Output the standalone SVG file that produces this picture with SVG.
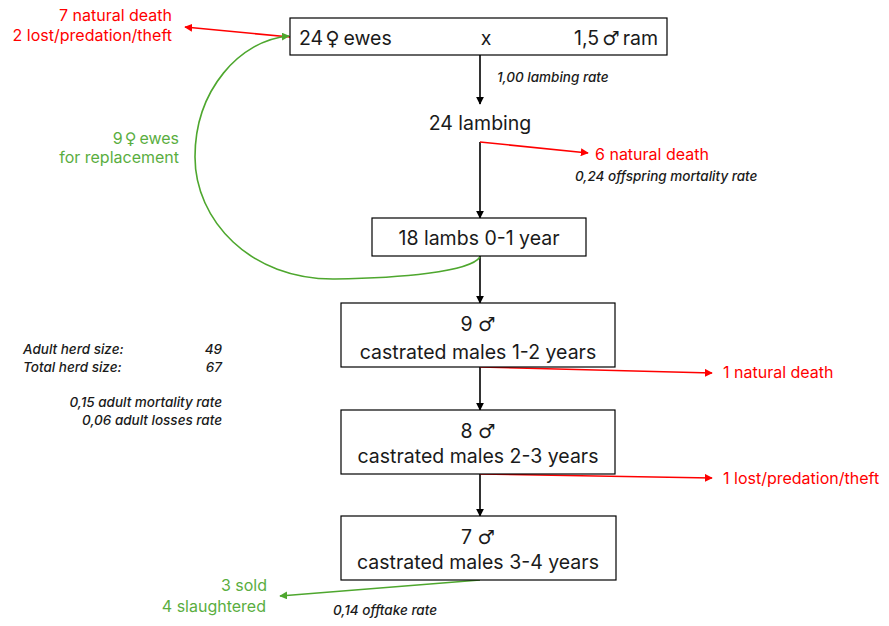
<svg xmlns="http://www.w3.org/2000/svg" width="889" height="626" viewBox="0 0 889 626">
  <defs>
    <marker id="ah-black" viewBox="0 0 10 10" refX="9" refY="5" markerWidth="8" markerHeight="8" markerUnits="userSpaceOnUse" orient="auto">
      <path d="M0,0 L10,5 L0,10 Z" fill="#000"/>
    </marker>
    <marker id="ah-red" viewBox="0 0 10 10" refX="9" refY="5" markerWidth="8" markerHeight="8" markerUnits="userSpaceOnUse" orient="auto">
      <path d="M0,0 L10,5 L0,10 Z" fill="#ff0000"/>
    </marker>
    <marker id="ah-green" viewBox="0 0 10 10" refX="9" refY="5" markerWidth="8" markerHeight="8" markerUnits="userSpaceOnUse" orient="auto">
      <path d="M0,0 L10,5 L0,10 Z" fill="#4ea72e"/>
    </marker>
    <style>
      text { font-family: Inter, "Open Sans", "Liberation Sans", sans-serif; }
      .box { fill: #fff; stroke: #000; stroke-width: 1.2; }
      .lbl { font-size: 19.5px; fill: #1a1a1a; }
      .note { font-size: 13.5px; font-style: italic; font-weight: 500; fill: #1a1a1a; }
      .red { font-size: 16px; fill: #ff0000; }
      .green { font-size: 16px; fill: #5aae3f; }
      .sym { font-family: "DejaVu Sans", sans-serif; }
      .flow { stroke: #000; stroke-width: 1.6; fill: none; marker-end: url(#ah-black); }
      .loss { stroke: #ff0000; stroke-width: 1.6; fill: none; marker-end: url(#ah-red); }
      .gain { stroke: #4ea72e; stroke-width: 1.6; fill: none; marker-end: url(#ah-green); }
    </style>
  </defs>

  <!-- connectors -->
  <g id="connectors">
    <line class="flow" x1="480" y1="55" x2="480" y2="104"/>
    <line class="flow" x1="480" y1="142" x2="480" y2="218"/>
    <line class="flow" x1="480" y1="256" x2="480" y2="303"/>
    <line class="flow" x1="480" y1="367" x2="480" y2="410"/>
    <line class="flow" x1="480" y1="474" x2="480" y2="516"/>
    <line class="loss" x1="290" y1="37" x2="185" y2="27"/>
    <line class="loss" x1="480" y1="142" x2="588" y2="153"/>
    <line class="loss" x1="480" y1="367" x2="712" y2="373"/>
    <line class="loss" x1="480" y1="474" x2="712" y2="478"/>
    <line class="gain" x1="480" y1="580" x2="280" y2="596"/>
    <path class="gain" d="M480,257 C470,272 400,278 335,279 C250,280 195,220 195,157 C195,90 240,40 289,36"/>
  </g>

  <g id="breeding-stock">
    <rect class="box" x="290" y="18" width="377" height="37"/>
    <text class="lbl" x="299" y="45">24<tspan class="sym" dx="2">♀</tspan><tspan dx="4">ewes</tspan></text>
    <text class="lbl" x="486" y="45" text-anchor="middle">x</text>
    <text class="lbl" x="658" y="45" text-anchor="end">1,5<tspan class="sym" dx="3">♂</tspan><tspan dx="3">ram</tspan></text>
  </g>

  <g id="lambing">
    <text class="lbl" x="480" y="130" text-anchor="middle">24 lambing</text>
  </g>

  <g id="lambs">
    <rect class="box" x="372" y="218" width="214" height="38"/>
    <text class="lbl" x="479" y="245" text-anchor="middle">18 lambs 0-1 year</text>
  </g>

  <g id="males-1-2">
    <rect class="box" x="341" y="303" width="274" height="64"/>
    <text class="lbl" x="478" y="331" text-anchor="middle">9 <tspan class="sym">♂</tspan></text>
    <text class="lbl" x="478" y="359" text-anchor="middle">castrated males 1-2 years</text>
  </g>

  <g id="males-2-3">
    <rect class="box" x="341" y="410" width="274" height="64"/>
    <text class="lbl" x="478" y="438" text-anchor="middle">8 <tspan class="sym">♂</tspan></text>
    <text class="lbl" x="478" y="463" text-anchor="middle">castrated males 2-3 years</text>
  </g>

  <g id="males-3-4">
    <rect class="box" x="341" y="516" width="275" height="64"/>
    <text class="lbl" x="478" y="544" text-anchor="middle">7 <tspan class="sym">♂</tspan></text>
    <text class="lbl" x="478" y="569" text-anchor="middle">castrated males 3-4 years</text>
  </g>

  <g id="adult-losses">
    <text class="red" x="172" y="21" text-anchor="end">7  natural death</text>
    <text class="red" x="172" y="41" text-anchor="end">2 lost/predation/theft</text>
  </g>

  <g id="replacement">
    <text class="green" x="179" y="144" text-anchor="end">9<tspan class="sym" dx="2">♀</tspan><tspan dx="3">ewes</tspan></text>
    <text class="green" x="179" y="163" text-anchor="end">for replacement</text>
  </g>

  <g id="lamb-losses">
    <text class="red" x="595" y="160">6 natural death</text>
    <text class="note" x="575" y="181">0,24 offspring mortality rate</text>
  </g>

  <g id="lambing-rate">
    <text class="note" x="497" y="82">1,00 lambing rate</text>
  </g>

  <g id="loss-1-2">
    <text class="red" x="723" y="378">1 natural death</text>
  </g>

  <g id="loss-2-3">
    <text class="red" x="723" y="484">1 lost/predation/theft</text>
  </g>

  <g id="offtake">
    <text class="green" x="267" y="591" text-anchor="end">3 sold</text>
    <text class="green" x="266" y="612" text-anchor="end">4 slaughtered</text>
    <text class="note" x="333" y="615">0,14 offtake rate</text>
  </g>

  <g id="herd-summary">
    <text class="note" x="23" y="354">Adult herd size:</text>
    <text class="note" x="222" y="354" text-anchor="end">49</text>
    <text class="note" x="23" y="372">Total herd size:</text>
    <text class="note" x="222" y="372" text-anchor="end">67</text>
    <text class="note" x="222" y="407" text-anchor="end">0,15 adult mortality rate</text>
    <text class="note" x="222" y="425" text-anchor="end">0,06 adult losses rate</text>
  </g>
</svg>
